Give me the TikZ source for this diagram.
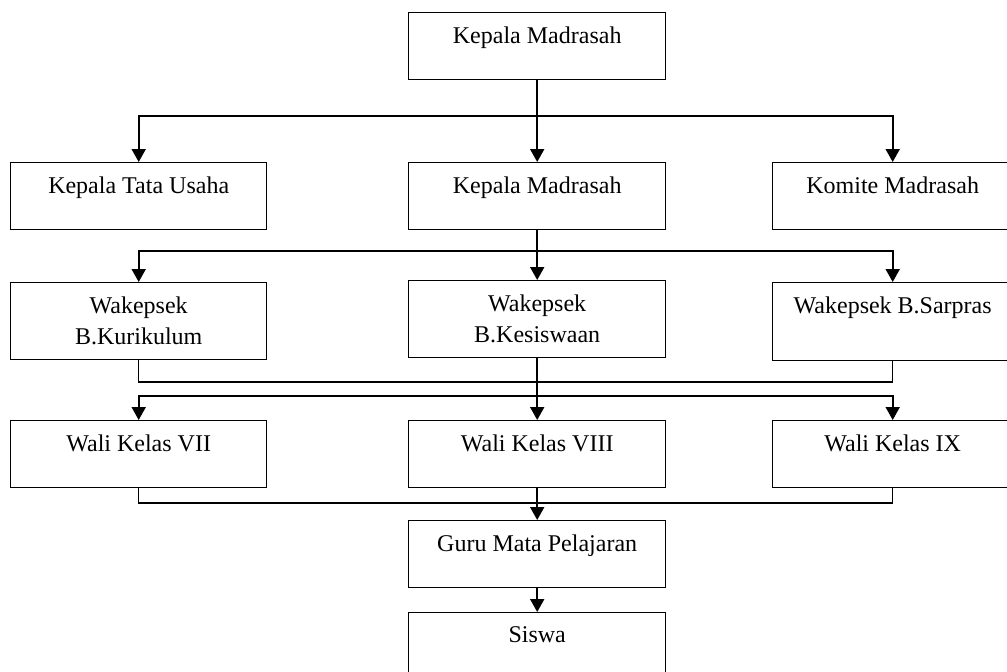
\documentclass[tikz,border=0pt]{standalone}
\usepackage{fontspec}
\setmainfont{Liberation Serif}
\usetikzlibrary{arrows.meta}
\begin{document}
\begin{tikzpicture}[x=1pt,y=-1pt,
        font=\fontsize{24}{31}\selectfont,
        box/.style={draw,line width=1.4,anchor=north west,inner sep=0,minimum width=257,minimum height=67},
        boxtext/.style={anchor=north,align=center,inner sep=0,yshift=-14.5},
        arr/.style={-{Triangle[width=14,length=13]},line width=1.9}]
            \useasboundingbox (0,0) rectangle (1007,672);
            \clip (0,0) rectangle (1007,672);
            \node[box,label={[boxtext]north:Kepala Madrasah}] (kepala) at (408,12) {};
            \node[box,minimum width=256,label={[boxtext]north:Kepala Tata Usaha}] (tatausaha) at (10,162) {};
            \node[box,label={[boxtext]north:Kepala Madrasah}] (kepala2) at (408,162) {};
            \node[box,minimum width=240,label={[boxtext]north:Komite Madrasah}] (komite) at (772,162) {};
            \node[box,minimum width=256,minimum height=77,label={[boxtext]north:{Wakepsek\\B.Kurikulum}}] (kurikulum) at (10,282) {};
            \node[box,minimum height=77,label={[boxtext]north:{Wakepsek\\B.Kesiswaan}}] (kesiswaan) at (408,280) {};
            \node[box,minimum width=240,minimum height=78,label={[boxtext]north:Wakepsek B.Sarpras}] (sarpras) at (772,282) {};
            \node[box,minimum width=256,label={[boxtext]north:Wali Kelas VII}] (wali7) at (10,420) {};
            \node[box,label={[boxtext]north:Wali Kelas VIII}] (wali8) at (408,420) {};
            \node[box,minimum width=240,label={[boxtext]north:Wali Kelas IX}] (wali9) at (772,420) {};
            \node[box,label={[boxtext]north:Guru Mata Pelajaran}] (guru) at (408,520) {};
            \node[box,minimum height=80,label={[boxtext]north:Siswa}] (siswa) at (408,612) {};
            \coordinate (bus1) at (536,116);
            \coordinate (bus2) at (536,251);
            \coordinate (join3) at (536,382);
            \coordinate (bus3) at (536,396);
            \coordinate (join4) at (536,503);
            \draw[arr] (kepala.south) -- (kepala2.north);
            \draw[arr] (bus1) -| (tatausaha.north);
            \draw[arr] (bus1) -| (komite.north);
            \draw[arr] (kepala2.south) -- (kesiswaan.north);
            \draw[arr] (bus2) -| (kurikulum.north);
            \draw[arr] (bus2) -| (sarpras.north);
            \draw[line width=1.4] (kurikulum.south) |- (join3) -| (sarpras.south);
            \draw[arr] (kesiswaan.south) -- (wali8.north);
            \draw[arr] (bus3) -| (wali7.north);
            \draw[arr] (bus3) -| (wali9.north);
            \draw[line width=1.4] (wali7.south) |- (join4) -| (wali9.south);
            \draw[arr] (wali8.south) -- (guru.north);
            \draw[arr] (guru.south) -- (siswa.north);
        \end{tikzpicture}
\end{document}
